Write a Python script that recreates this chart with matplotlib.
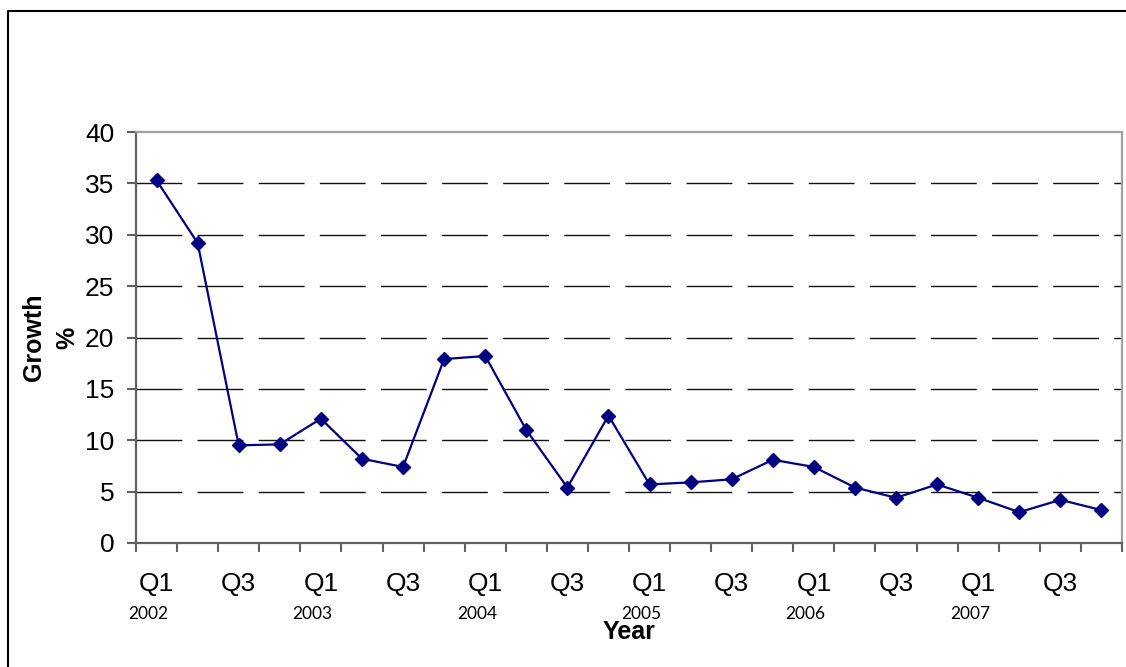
import matplotlib
matplotlib.use("Agg")
import matplotlib.pyplot as plt
from matplotlib.lines import Line2D
from matplotlib.transforms import blended_transform_factory

# Quarterly growth (%) 2002 Q1 - 2007 Q4
years = ["2002", "2003", "2004", "2005", "2006", "2007"]
quarters = ["Q1", "Q2", "Q3", "Q4"]
growth = [35.3, 29.2, 9.5, 9.6, 12.1, 8.2, 7.4, 17.9,
          18.2, 11.0, 5.4, 12.4, 5.7, 5.9, 6.2, 8.1,
          7.4, 5.4, 4.4, 5.7, 4.4, 3.0, 4.2, 3.2]
y_ticks = [0, 5, 10, 15, 20, 25, 30, 35, 40]

plt.rcParams["font.family"] = ["Liberation Sans", "DejaVu Sans"]

fig = plt.figure(figsize=(11.26, 6.67), dpi=100)
W, H = 1126, 667
ax = fig.add_axes([136 / W, 1 - 543 / H, (1122 - 136) / W, (543 - 132) / H])

n = len(growth)
xs = list(range(n))

# dashed horizontal gridlines
for v in y_ticks[1:-1]:
    ax.axhline(v, color="#111111", lw=1.0, linestyle=(0, (33, 11)), zorder=1)

ax.plot(xs, growth, color="#000080", lw=1.6, marker="D", markersize=7.5,
        markerfacecolor="#000080", markeredgecolor="#000080", zorder=3,
        clip_on=False)

ax.set_xlim(-0.5, n - 0.5)
ax.set_ylim(0, 40)

# y axis
ax.set_yticks(y_ticks)
ax.set_yticklabels([str(v) for v in y_ticks], fontsize=19)
ax.tick_params(axis="y", direction="out", length=6.5, width=1.5,
               color="#606060", pad=9)

# x axis: ticks between categories, labels at every second quarter
ax.set_xticks([i - 0.5 for i in range(n + 1)])
ax.set_xticklabels([])
ax.tick_params(axis="x", which="major", direction="out", length=6.5,
               width=1.5, color="#606060")
ax.set_xticks(xs, minor=True)
q_labels = [quarters[i % 4] if i % 2 == 0 else "" for i in range(n)]
ax.set_xticklabels(q_labels, minor=True, fontsize=19)
ax.tick_params(axis="x", which="minor", length=0, pad=21)

# year labels under each Q1
trans = blended_transform_factory(ax.transData, ax.transAxes)
for k, yr in enumerate(years):
    ax.text(4 * k - 0.2, -0.173, yr, transform=trans, ha="center", va="center",
            fontsize=12.5, family=["Lato", "DejaVu Sans"])

ax.set_xlabel("Year", fontsize=18, fontweight="bold")
ax.xaxis.set_label_coords(0.5, -0.188)
ax.set_ylabel("Growth\n%", fontsize=18, fontweight="bold", linespacing=1.5)
ax.yaxis.set_label_coords(-0.057, 0.5)

for side in ("left", "bottom"):
    ax.spines[side].set_color("#606060")
    ax.spines[side].set_linewidth(1.6)
for side in ("top", "right"):
    ax.spines[side].set_color("#a0a0a0")
    ax.spines[side].set_linewidth(1.6)

# outer chart frame (left and top edges)
fig.add_artist(Line2D([8 / W, 8 / W, 1], [0, 1 - 10.5 / H, 1 - 10.5 / H],
                      transform=fig.transFigure, color="black", lw=1.5))

fig.savefig("out.png", dpi=100, facecolor="white")
